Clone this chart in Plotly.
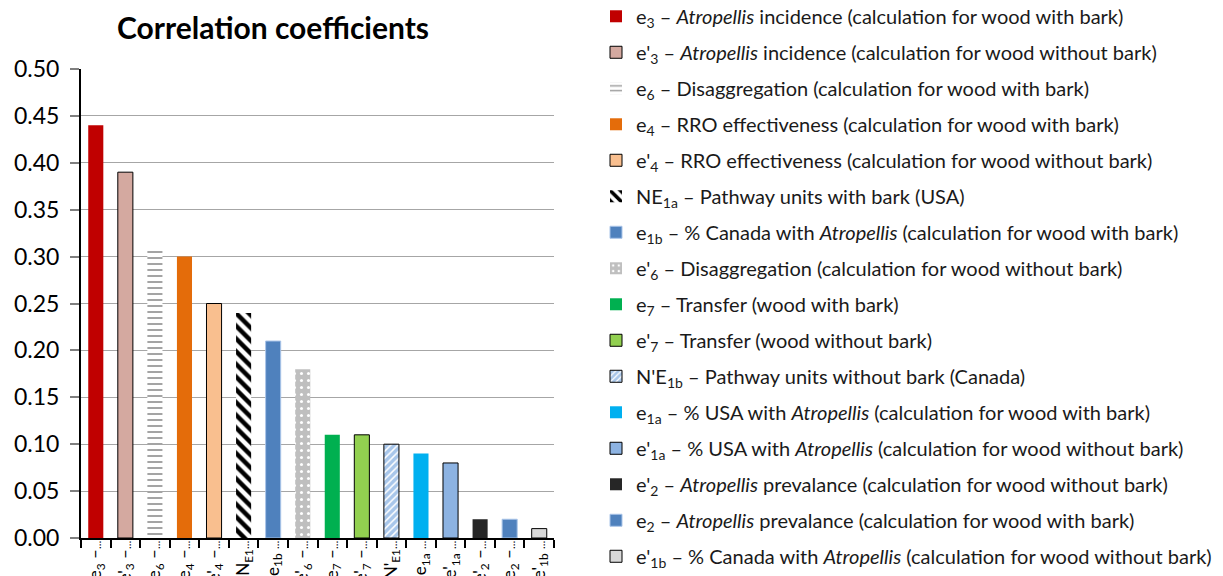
import plotly.graph_objects as go

# ---- data ----
ELL = "<span style='font-size:11px'>…</span>"
tick_labels = [
    "e<sub>3</sub> –" + ELL, "e'<sub>3</sub> –" + ELL, "e<sub>6</sub> –" + ELL,
    "e<sub>4</sub> –" + ELL, "e'<sub>4</sub> –" + ELL, "N<sub>E1</sub>" + ELL,
    "e<sub>1b</sub> " + ELL, "e'<sub>6</sub> –" + ELL, "e<sub>7</sub> –" + ELL,
    "e'<sub>7</sub> –" + ELL, "N'<sub>E1</sub>" + ELL, "e<sub>1a</sub> " + ELL,
    "e'<sub>1a</sub> " + ELL, "e'<sub>2</sub> –" + ELL, "e<sub>2</sub> –" + ELL,
    "e'<sub>1b</sub> " + ELL,
]
values = [0.44, 0.39, 0.31, 0.30, 0.25, 0.24, 0.21, 0.18,
          0.11, 0.11, 0.10, 0.09, 0.08, 0.02, 0.02, 0.01]
legend_names = [
    "e<sub>3</sub> – <i>Atropellis</i> incidence (calculation for wood with bark)",
    "e'<sub>3</sub> – <i>Atropellis</i> incidence (calculation for wood without bark)",
    "e<sub>6</sub> – Disaggregation (calculation for wood with bark)",
    "e<sub>4</sub> – RRO effectiveness (calculation for wood with bark)",
    "e'<sub>4</sub> – RRO effectiveness (calculation for wood without bark)",
    "NE<sub>1a</sub> – Pathway units with bark (USA)",
    "e<sub>1b</sub> – % Canada with <i>Atropellis</i> (calculation for wood with bark)",
    "e'<sub>6</sub> – Disaggregation (calculation for wood without bark)",
    "e<sub>7</sub> – Transfer (wood with bark)",
    "e'<sub>7</sub> – Transfer (wood without bark)",
    "N'E<sub>1b</sub> – Pathway units without bark (Canada)",
    "e<sub>1a</sub> – % USA with <i>Atropellis</i> (calculation for wood with bark)",
    "e'<sub>1a</sub> – % USA with <i>Atropellis</i> (calculation for wood without bark)",
    "e'<sub>2</sub> – <i>Atropellis</i> prevalance (calculation for wood without bark)",
    "e<sub>2</sub> – <i>Atropellis</i> prevalance (calculation for wood with bark)",
    "e'<sub>1b</sub> – % Canada with <i>Atropellis</i> (calculation for wood without bark)",
]

# ---- styles ----
fill_colors = ["#c00000", "#d4a9a0", "#ffffff", "#e46c0a", "#f9bf8f", "#ffffff",
               "#4f81bd", "#bfbfbf", "#00b050", "#92d050", "#a8c6ea", "#00b0f0",
               "#8db3e2", "#262626", "#4f81bd", "#d9d9d9"]
line_colors = [None, "#000000", None, None, "#000000", None,
               "#a9c4e8", None, None, "#000000", "#000000", None,
               "#000000", None, "#a9c4e8", "#000000"]
patterns = [None, None, ("-", "#9a9a9a", "#ffffff", 6, 0.3), None, None,
            ("\\", "#000000", "#ffffff", 9, 0.5), None,
            (".", "#ffffff", "#bfbfbf", 7, 0.15), None, None,
            ("/", "#ffffff", "#a8c6ea", 5, 0.3), None, None, None, None, None]

FONT = "Lato"

fig = go.Figure()
for i, (lab, val) in enumerate(zip(tick_labels, values)):
    marker = dict(color=fill_colors[i])
    if line_colors[i]:
        marker["line"] = dict(color=line_colors[i], width=1)
    else:
        marker["line"] = dict(width=0)
    if patterns[i]:
        shp, fg, bg, sz, sol = patterns[i]
        marker["pattern"] = dict(shape=shp, fgcolor=fg, bgcolor=bg, size=sz,
                                 solidity=sol, fillmode="replace")
    fig.add_trace(go.Bar(x=[lab], y=[val], name=legend_names[i], marker=marker,
                         legendgroup=f"g{i}", showlegend=True))

fig.update_layout(
    width=1223, height=576,
    margin=dict(l=81, r=669, t=69, b=38, autoexpand=False),
    paper_bgcolor="white", plot_bgcolor="white",
    barmode="overlay", bargap=0.49,
    font=dict(family=FONT, color="#000000"),
    title=dict(text="<b>Correlation coefficients</b>", x=273 / 1223, xanchor="center",
               y=1 - 28 / 576, yanchor="middle",
               font=dict(family=FONT, size=30, color="#000000")),
    legend=dict(x=1.0888, xanchor="left", y=1.154, yanchor="top",
                font=dict(family=FONT, size=20, color="#1a1a1a"),
                tracegroupgap=7, itemwidth=30, bgcolor="rgba(0,0,0,0)",
                traceorder="grouped", maxheight=700),
    showlegend=True,
)
fig.update_xaxes(
    type="category", categoryorder="array", categoryarray=tick_labels,
    tickangle=-90, tickson="boundaries", ticks="outside", ticklen=8,
    tickcolor="#000000", tickwidth=1.5,
    showline=True, linecolor="#000000", linewidth=2,
    showgrid=False, automargin=False,
    tickfont=dict(family=FONT, size=17, color="#000000"),
    ticklabelstandoff=-6,
)
fig.update_yaxes(
    range=[0, 0.5], dtick=0.05, tick0=0, tickformat=".2f",
    ticks="outside", ticklen=9, tickcolor="#7f7f7f", tickwidth=1.5,
    showline=True, linecolor="#000000", linewidth=2,
    showgrid=True, gridcolor="#a6a6a6", gridwidth=1, zeroline=False,
    tickfont=dict(family=FONT, size=23, color="#000000"),
    ticklabelstandoff=6,
    automargin=False,
)

fig.write_html("out.html", config={"displayModeBar": False},
               post_script="document.body.style.margin='0';document.body.style.overflow='hidden';")
